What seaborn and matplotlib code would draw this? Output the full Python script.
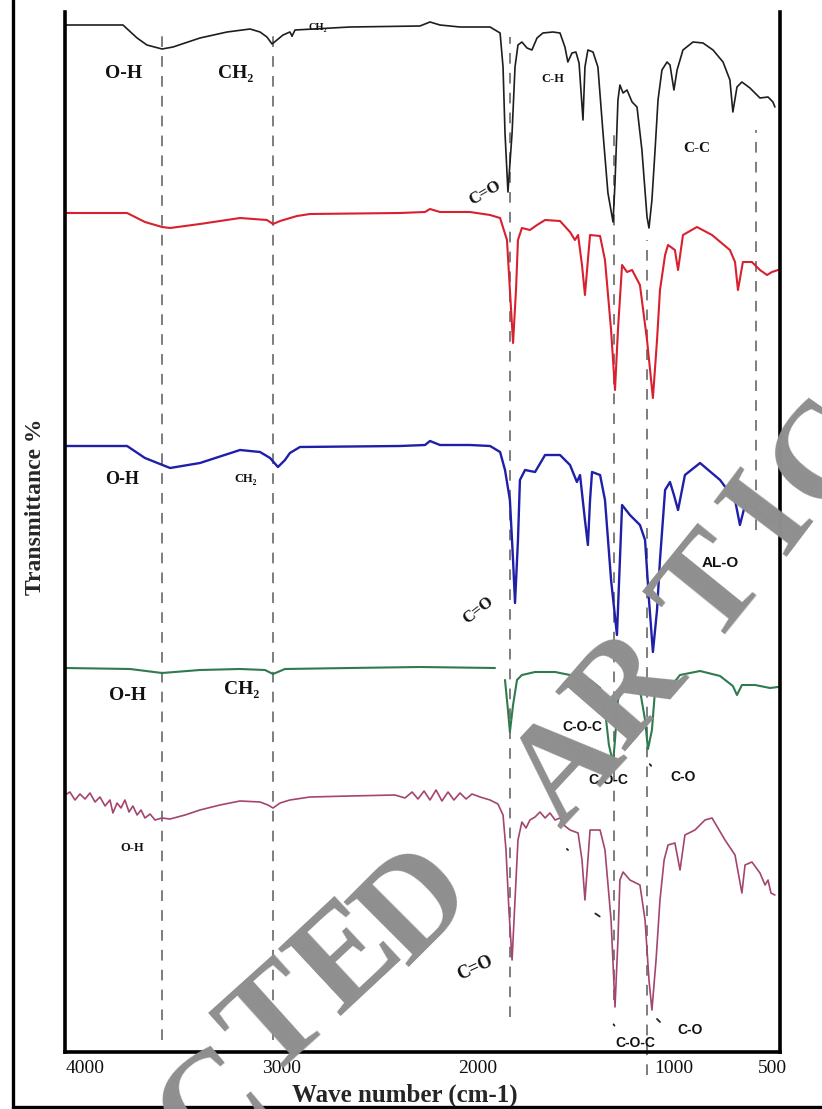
import numpy as np
import pandas as pd
import matplotlib
matplotlib.use("Agg")
import matplotlib.pyplot as plt
import seaborn as sns
from matplotlib.lines import Line2D

sns.set_theme(style="white")
plt.rcParams['font.family'] = ['Liberation Serif', 'DejaVu Serif']

# ---------------- data (wavenumber, offset transmittance) ----------------
black_wn = [4100, 3805, 3733, 3683, 3606, 3550, 3413, 3275, 3158, 3107, 3072, 3046, 3021, 2990, 2955, 2944, 2929,
            2649, 2293, 2242, 2191, 2089, 1936, 1885, 1870, 1860, 1845, 1824, 1809, 1794, 1774, 1748, 1723, 1697,
            1667, 1616, 1580, 1555, 1540, 1519, 1499, 1483, 1463, 1453, 1438, 1412, 1387, 1361, 1336, 1310, 1300,
            1285, 1275, 1259, 1239, 1213, 1188, 1163, 1137, 1127, 1112, 1096, 1081, 1061, 1035, 1020, 1000, 984,
            954, 903, 852, 801, 750, 715, 700, 679, 654, 613, 562, 521, 496, 486]
black_t = [102.7, 102.7, 101.4, 100.7, 100.3, 100.5, 101.4, 102.0, 102.3, 102.0, 101.5, 100.8, 101.2, 101.7, 102.0, 101.6, 102.2,
           102.5, 102.6, 103.0, 102.7, 102.5, 102.5, 101.9, 98.5, 91.9, 86.0, 91.9, 98.5, 100.7, 101.0, 100.4, 100.2, 101.4,
           101.9, 102.0, 101.9, 100.5, 99.0, 99.9, 100.0, 98.9, 93.2, 98.5, 100.2, 100.0, 98.5, 91.9, 85.9, 83.0, 86.9,
           95.2, 96.7, 95.9, 96.2, 95.0, 94.5, 90.2, 83.5, 82.4, 85.2, 90.2, 95.2, 98.2, 99.0, 98.7, 96.2, 98.2,
           100.2, 101.0, 100.9, 100.2, 99.0, 97.2, 94.0, 96.5, 97.0, 96.4, 95.4, 95.5, 95.0, 94.5]

red_wn = [4100, 3784, 3693, 3606, 3565, 3413, 3209, 3072, 3041, 3005, 2919, 2853, 2395, 2267, 2242, 2191, 2038,
          1936, 1885, 1850, 1835, 1819, 1804, 1794, 1774, 1733, 1697, 1656, 1580, 1529, 1504, 1488, 1468, 1453,
          1438, 1427, 1376, 1351, 1320, 1300, 1285, 1264, 1239, 1213, 1173, 1137, 1107, 1086, 1071, 1045, 1030,
          995, 979, 954, 883, 806, 715, 689, 674, 649, 603, 562, 526, 501, 470]
red_t = [83.9, 83.9, 83.0, 82.5, 82.4, 82.8, 83.4, 83.2, 82.8, 83.1, 83.6, 83.8, 83.9, 84.0, 84.3, 84.0, 84.0,
         83.7, 83.4, 81.2, 76.2, 70.9, 76.2, 81.2, 82.4, 82.2, 82.7, 83.2, 83.1, 82.0, 81.2, 81.7, 78.7, 75.7,
         79.2, 81.7, 81.6, 79.2, 72.2, 66.2, 72.2, 78.7, 78.0, 78.2, 76.7, 71.2, 65.4, 71.2, 76.2, 79.7, 80.7,
         80.2, 78.2, 81.7, 82.5, 81.7, 80.2, 79.0, 76.2, 79.0, 79.0, 78.2, 77.7, 78.0, 78.2]

blue_wn = [4100, 3784, 3693, 3565, 3413, 3209, 3107, 3056, 3016, 2980, 2955, 2904, 2395, 2267, 2242, 2191, 2038,
           1936, 1885, 1860, 1835, 1819, 1809, 1794, 1784, 1758, 1707, 1656, 1580, 1529, 1494, 1478, 1453, 1438,
           1427, 1417, 1376, 1351, 1320, 1290, 1275, 1264, 1224, 1173, 1147, 1127, 1107, 1086, 1071, 1045, 1020,
           1000, 979, 959, 944, 867, 765, 689, 664, 638, 587, 536, 486]
blue_t = [60.6, 60.6, 59.4, 58.4, 58.9, 60.2, 60.0, 59.4, 58.5, 59.2, 59.9, 60.5, 60.6, 60.7, 61.1, 60.7, 60.7,
          60.6, 60.0, 58.2, 55.2, 49.2, 44.9, 51.2, 57.2, 58.2, 58.0, 59.7, 59.7, 58.7, 57.0, 57.7, 53.2, 50.7,
          55.2, 58.0, 57.7, 55.2, 47.2, 41.7, 49.2, 54.7, 53.7, 52.7, 51.2, 45.2, 40.0, 44.2, 49.2, 56.2, 57.0,
          55.7, 54.2, 56.2, 57.7, 58.9, 57.2, 55.2, 52.7, 54.7, 54.4, 53.4, 53.0]

green_wn = [4100, 3769, 3606, 3413, 3209, 3082, 3041, 2980, 2649, 2293, 1911,
            1860, 1845, 1835, 1819, 1799, 1774, 1707, 1605, 1529, 1478, 1453, 1427, 1376, 1351, 1331, 1310,
            1300, 1285, 1249, 1224, 1173, 1147, 1132, 1112, 1096, 1061, 1030, 1010, 969, 867, 765, 700, 679,
            654, 587, 511, 470]
green_t = [38.4, 38.3, 37.9, 38.2, 38.3, 38.2, 37.8, 38.3, 38.4, 38.5, 38.4,
           37.2, 34.2, 32.0, 34.7, 37.2, 37.7, 38.0, 38.0, 37.7, 37.2, 36.2, 37.2, 36.4, 34.2, 30.7, 28.9,
           31.2, 35.2, 37.2, 37.4, 36.2, 33.2, 30.3, 32.2, 36.2, 37.2, 37.0, 36.7, 37.7, 38.1, 37.6, 36.6, 35.7,
           36.7, 36.7, 36.4, 36.5]
green_seg = [0] * 11 + [1] * 37

pink_wn = [4100, 4075, 4049, 4024, 3998, 3973, 3947, 3922, 3896, 3871, 3856, 3835, 3815, 3795, 3774, 3754, 3733,
           3713, 3693, 3667, 3642, 3606, 3565, 3489, 3413, 3311, 3209, 3107, 3067, 3041, 3005, 2955, 2853, 2649,
           2420, 2369, 2333, 2303, 2272, 2242, 2211, 2181, 2150, 2120, 2089, 2058, 2028, 1987, 1936, 1896, 1870,
           1855, 1840, 1824, 1809, 1794, 1774, 1753, 1733, 1707, 1682, 1656, 1631, 1605, 1580, 1555, 1529, 1488,
           1468, 1453, 1438, 1427, 1376, 1351, 1320, 1300, 1285, 1275, 1259, 1224, 1173, 1147, 1127, 1112, 1091,
           1071, 1050, 1030, 995, 969, 944, 893, 842, 806, 740, 689, 654, 638, 603, 562, 536, 521, 506, 486]
pink_t = [25.7, 26.0, 25.2, 25.8, 25.3, 25.9, 25.0, 25.5, 24.6, 25.2, 23.9, 24.9, 24.4, 25.2, 24.0, 24.6, 23.7,
          24.2, 23.4, 23.8, 23.2, 23.4, 23.3, 23.7, 24.2, 24.7, 25.1, 25.0, 24.7, 24.4, 24.9, 25.2, 25.5, 25.6,
          25.7, 25.4, 26.0, 25.3, 26.1, 25.2, 26.2, 25.1, 26.0, 25.2, 25.9, 25.3, 25.8, 25.5, 25.2, 24.8, 23.7,
          20.2, 14.2, 9.2, 15.2, 21.2, 23.0, 22.4, 23.2, 23.5, 24.0, 23.4, 23.9, 23.2, 23.4, 22.6, 22.2, 21.9,
          19.2, 15.2, 19.2, 22.2, 22.2, 20.2, 13.2, 4.5, 11.2, 17.2, 18.0, 17.2, 16.7, 13.2, 7.2, 4.2, 9.2,
          15.2, 19.2, 20.7, 20.9, 18.2, 21.7, 22.2, 23.2, 23.4, 21.2, 19.7, 15.9, 18.7, 19.0, 17.9, 16.7, 17.2, 15.9, 15.7]

# dashed guide lines (wavenumber, top, bottom)
guide_wn = [3606, 3041, 1835, 1305, 1137, 582]
guide_top = [102.2, 102.2, 101.5, 91.9, 81.2, 92.2]
guide_bottom = [1.2, 1.2, 3.5, 5.2, -2.3, 52.2]

tick_vals = [4000, 3000, 2000, 1000, 500]
tick_labels = ['4000', '3000', '2000', '1000', '500']

# ---------------- figure ----------------
W, H = 822, 1109
fig = plt.figure(figsize=(W / 100, H / 100), dpi=100)
fig.patch.set_facecolor('white')
ax = fig.add_axes([65 / W, 57 / H, 715 / W, 1040 / H])
ax.set_facecolor('white')


def draw(wn, t, color, lw, seg=None):
    df = pd.DataFrame({'wn': wn, 't': t, 'seg': seg if seg is not None else [0] * len(wn)})
    sns.lineplot(data=df, x='wn', y='t', units='seg', estimator=None, sort=False,
                 color=color, lw=lw, ax=ax, legend=False)


ax.vlines(guide_wn, guide_bottom, guide_top, colors='#5a5a5a', linestyles=(0, (7, 6)), lw=1.1,
          clip_on=False, zorder=1)

draw(black_wn, black_t, '#1e1e1e', 1.2)
draw(red_wn, red_t, '#d8202e', 1.5)
draw(blue_wn, blue_t, '#1f1fa8', 1.7)
draw(green_wn, green_t, '#2f7a4e', 1.5, green_seg)
draw(pink_wn, pink_t, '#a3456f', 1.2)

ax.set_xlim(4100, 460)
ax.set_ylim(0, 104)
ax.set_xticks(tick_vals)
ax.set_xticklabels(tick_labels, fontsize=14)
ax.set_yticks([])
ax.tick_params(axis='x', length=0, pad=6, colors='#111111')
for side in ['left', 'right', 'bottom']:
    ax.spines[side].set_visible(True)
    ax.spines[side].set_linewidth(2.6)
    ax.spines[side].set_color('black')
ax.spines['top'].set_visible(False)

ax.set_xlabel('Wave number (cm-1)', fontsize=18, fontweight='bold')
ax.xaxis.set_label_coords(0.4755, -0.030)
ax.set_ylabel('Transmittance %', fontsize=17, fontweight='bold')
ax.yaxis.set_label_coords(-0.027, 0.524)

serif = ['Liberation Serif', 'DejaVu Serif']
sans = ['Liberation Sans', 'DejaVu Sans']


def lab(x, y, s, size, fam=serif, rot=0):
    ax.text(x, y, s, fontsize=size, fontweight='bold', family=fam, ha='center', va='center',
            rotation=rot, color='#111111', zorder=5)


# black spectrum labels
lab(3800, 97.9, 'O-H', 14)
lab(3230, 97.9, 'CH₂', 14)
lab(2812, 102.4, 'CH₂', 7.5)
lab(1616, 97.3, 'C-H', 9)
lab(1962, 85.9, 'C=O', 12, rot=30)
lab(883, 90.4, 'C-C', 11)
# blue spectrum labels
lab(3810, 57.3, 'O-H', 13)
lab(3180, 57.3, 'CH₂', 9)
lab(1997, 44.2, 'C=O', 12, rot=38)
lab(765, 48.9, 'AL-O', 11, fam=sans)
# green spectrum labels
lab(3784, 35.6, 'O-H', 14)
lab(3199, 36.2, 'CH₂', 14)
lab(1468, 32.5, 'C-O-C', 10, fam=sans)
lab(1336, 27.2, 'C-O-C', 10, fam=sans)
lab(954, 27.5, 'C-O', 10, fam=sans)
# pink spectrum labels
lab(3759, 20.4, 'O-H', 9)
lab(2013, 8.4, 'C=O', 13, rot=25)
lab(1198, 0.9, 'C-O-C', 10, fam=sans)
lab(918, 2.2, 'C-O', 10, fam=sans)

# small pointer marks
marks = [((1315, 3.0), (1295, 2.4)), ((1096, 3.5), (1061, 2.8)), ((1412, 14.0), (1366, 13.4)),
         ((1555, 20.5), (1529, 20.0)), ((1132, 29.0), (1107, 28.4)), ((2955, 101.8), (2935, 101.4))]
for a, b in marks:
    ax.annotate('', xy=b, xytext=a, arrowprops=dict(arrowstyle='-', lw=1.3, color='#222222'))

# outer frame lines
fig.add_artist(Line2D([13 / W, 13 / W], [0, 1], transform=fig.transFigure, color='black', lw=2.4))
fig.add_artist(Line2D([13 / W, 1], [2 / H, 2 / H], transform=fig.transFigure, color='black', lw=2.4))

# watermark
wm_letters = ['C', 'T', 'E', 'D', 'A', 'R', 'T', 'I', 'C']
wm_x = [215, 280, 350, 418, 570, 630, 715, 772, 830]
wm_y = [1108, 1025, 960, 908, 770, 692, 592, 515, 455]
wm_rot = [40, 42, 43, 45, 47, 49, 51, 53, 55]
for ch, x, y, r in zip(wm_letters, wm_x, wm_y, wm_rot):
    fig.text(x / W, 1 - y / H, ch, fontsize=100, fontweight='bold', family=serif, color='#8f8f8f',
             rotation=r, ha='center', va='center', rotation_mode='anchor', zorder=10)

fig.savefig('out.png', dpi=100, facecolor='white')
